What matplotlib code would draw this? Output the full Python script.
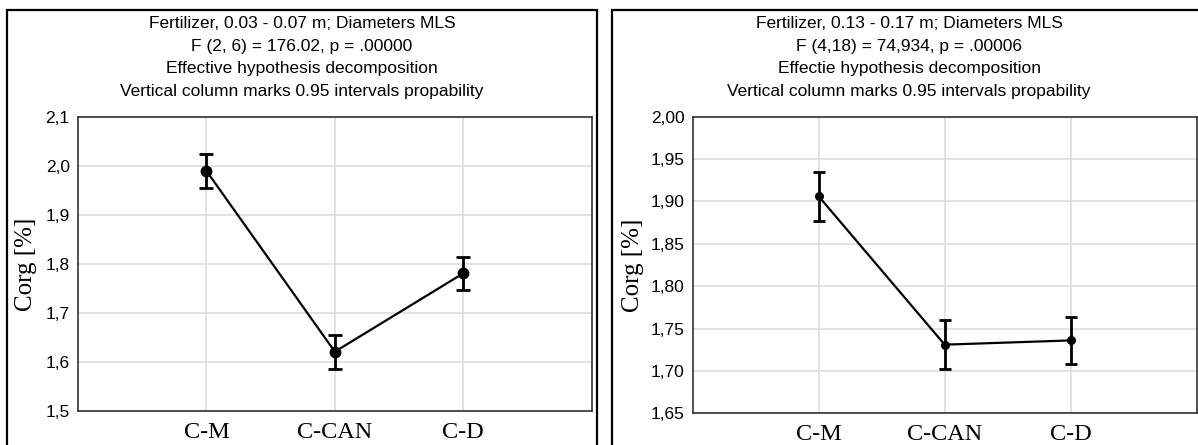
import numpy as np
import matplotlib
matplotlib.use("Agg")
import matplotlib.pyplot as plt
from matplotlib.patches import Rectangle
from matplotlib.ticker import FuncFormatter

# data
categories = ["C-M", "C-CAN", "C-D"]

left_means = [1.990, 1.621, 1.781]
left_ci = [0.034, 0.035, 0.034]
left_title = ["Fertilizer, 0.03 - 0.07 m; Diameters MLS",
              "F (2, 6) = 176.02, p = .00000",
              "Effective hypothesis decomposition",
              "Vertical column marks 0.95 intervals propability"]
left_yticks = [1.5, 1.6, 1.7, 1.8, 1.9, 2.0, 2.1]

right_means = [1.906, 1.731, 1.736]
right_ci = [0.029, 0.029, 0.028]
right_title = ["Fertilizer, 0.13 - 0.17 m; Diameters MLS",
               "F (4,18) = 74,934, p = .00006",
               "Effectie hypothesis decomposition",
               "Vertical column marks 0.95 intervals propability"]
right_yticks = [1.65, 1.70, 1.75, 1.80, 1.85, 1.90, 1.95, 2.00]

W, H = 1198, 445
fig = plt.figure(figsize=(W / 100, H / 100), dpi=100)


def px_x(x):
    return x / W


def px_y(y):
    return 1 - y / H


def panel(rect, means, ci, yticks, decimals, msize, capsize, ylab_x):
    ax = fig.add_axes(rect)
    x = np.arange(1, len(categories) + 1)
    ax.errorbar(x, means, yerr=ci, color="black", lw=1.6, marker="o",
                ms=msize, elinewidth=2, capsize=capsize, capthick=2, zorder=3)
    ax.set_xlim(0, len(categories) + 1)
    ax.set_ylim(yticks[0], yticks[-1])
    ax.set_xticks(x)
    ax.set_xticklabels(categories, family="Liberation Serif", fontsize=17.5)
    ax.set_yticks(yticks)
    ax.yaxis.set_major_formatter(
        FuncFormatter(lambda v, p: f"{v:.{decimals}f}".replace(".", ",")))
    for lab in ax.get_yticklabels():
        lab.set_family("Liberation Sans")
        lab.set_fontsize(12.5)
    ax.tick_params(axis="y", length=0, pad=6)
    ax.tick_params(axis="x", length=0, pad=8)
    ax.grid(True, color="#dddddd", lw=1.2)
    ax.set_axisbelow(True)
    for s in ax.spines.values():
        s.set_color("#222222")
        s.set_linewidth(1.1)
    fig.text(px_x(ylab_x), (rect[1] + rect[3] / 2), "Corg [%]", rotation=90,
             ha="center", va="center", family="Liberation Serif", fontsize=18)
    return ax


panel([px_x(78), px_y(411), px_x(591.7 - 78), (411 - 117) / H],
      left_means, left_ci, left_yticks, 1, 7.5, 4.8, 26)
panel([px_x(692.7), px_y(413.3), px_x(1196.7 - 692.7), (413.3 - 116.7) / H],
      right_means, right_ci, right_yticks, 2, 5.5, 4.0, 633)

# outer frames of the two panels
fig.patches.append(Rectangle((px_x(7), -0.2), px_x(590), px_y(10) + 0.2,
                             transform=fig.transFigure, fill=False,
                             ec="black", lw=1.6))
fig.patches.append(Rectangle((px_x(611.5), -0.2), px_x(700), px_y(10) + 0.2,
                             transform=fig.transFigure, fill=False,
                             ec="black", lw=1.6))

# titles
for cx, lines in [(302, left_title), (909, right_title)]:
    for i, line in enumerate(lines):
        fig.text(px_x(cx), px_y(24 + 22.4 * i), line, ha="center", va="center",
                 family="Liberation Sans", fontsize=12.5)

fig.savefig("out.png", dpi=100)
